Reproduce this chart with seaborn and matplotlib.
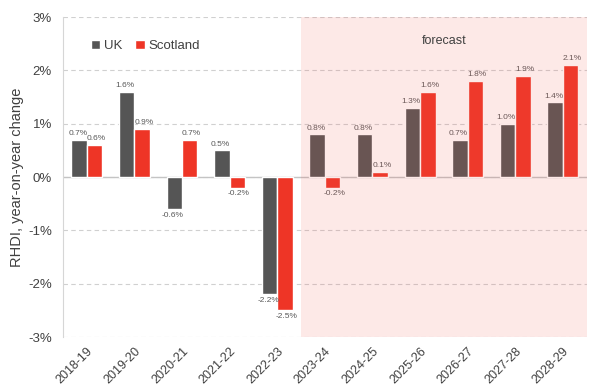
import matplotlib
matplotlib.use("Agg")
import matplotlib.pyplot as plt
import seaborn as sns
import pandas as pd
from matplotlib.ticker import FuncFormatter

years = ["2018-19", "2019-20", "2020-21", "2021-22", "2022-23", "2023-24",
         "2024-25", "2025-26", "2026-27", "2027-28", "2028-29"]
uk = [0.7, 1.6, -0.6, 0.5, -2.2, 0.8, 0.8, 1.3, 0.7, 1.0, 1.4]
scotland = [0.6, 0.9, 0.7, -0.2, -2.5, -0.2, 0.1, 1.6, 1.8, 1.9, 2.1]
series = ["UK", "Scotland"]
colors = ["#555555", "#ee3526"]
forecast_start = "2023-24"

df = pd.DataFrame({
    "year": years * 2,
    "series": [series[0]] * len(years) + [series[1]] * len(years),
    "value": uk + scotland,
})

sns.set_style("white")
plt.rcParams["font.family"] = ["Liberation Sans", "DejaVu Sans"]

fig = plt.figure(figsize=(5.89, 3.87), dpi=100)
ax = fig.add_axes([0.107, 0.129, 0.889, 0.827])

sns.barplot(data=df, x="year", y="value", hue="series", order=years,
            hue_order=series, palette=colors, width=0.65, gap=0,
            saturation=1, ax=ax, zorder=3)

# value labels, nudged slightly apart so neighbours in a pair don't collide
for cont, dx in zip(ax.containers, (-1.0, 1.2)):
    anns = ax.bar_label(cont, fmt="%.1f%%", padding=2, fontsize=6.0, color="#595959")
    for a in anns:
        ox, oy = a.xyann
        a.xyann = (ox + dx, oy)

# shaded forecast period drawn over the bars
x0 = years.index(forecast_start) - 0.5
ax.axvspan(x0, len(years) - 0.5, color="#f0574d", alpha=0.13, lw=0, zorder=4)
ax.text((x0 + len(years) - 0.5) / 2, 2.55, "forecast", ha="center", va="center",
        fontsize=9, color="#404040", zorder=5)

ax.set_xlim(-0.5, len(years) - 0.5)
ax.set_ylim(-3, 3)
ax.set_yticks(range(-3, 4))
ax.yaxis.set_major_formatter(FuncFormatter(lambda v, p: f"{v:.0f}%"))
ax.yaxis.grid(True, ls=(0, (4, 3)), color="#d0d0d0", lw=0.8, zorder=0)
ax.axhline(0, color="#c4c4c4", lw=1, zorder=2)

for s in ["top", "right", "bottom"]:
    ax.spines[s].set_visible(False)
ax.spines["left"].set_color("#d6d6d6")

ax.tick_params(axis="y", labelsize=9.5, colors="#404040", length=0, pad=8)
ax.tick_params(axis="x", labelsize=9, colors="#404040", length=0, pad=6)
for lbl in ax.get_xticklabels():
    lbl.set_rotation(45)
    lbl.set_ha("right")
    lbl.set_rotation_mode("anchor")

ax.set_xlabel("")
ax.set_ylabel("RHDI, year-on-year change", fontsize=10.5, color="#404040")
ax.yaxis.set_label_coords(-0.074, 0.5)

ax.legend(ncol=2, loc="upper left", bbox_to_anchor=(0.03, 0.965), frameon=False,
          fontsize=9.5, handlelength=0.7, handleheight=0.7, handletextpad=0.3,
          columnspacing=1.0, labelcolor="#404040")

fig.savefig("out.png", dpi=100)
